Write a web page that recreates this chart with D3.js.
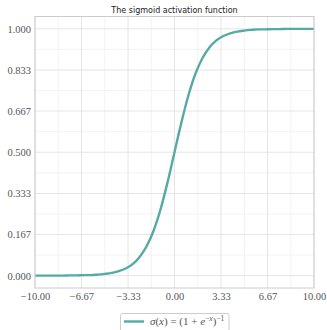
<!DOCTYPE html>
<html>
<head>
<meta charset="utf-8">
<script src="https://cdn.jsdelivr.net/npm/d3@7"></script>
<style>
  body { margin: 0; background: #fff; }
  svg { display: block; }
  .tick text { font-family: "Liberation Serif", serif; font-size: 10.5px; fill: #555; }
</style>
</head>
<body>
<svg width="327" height="330"></svg>
<script>
// values
const xs = [-10, -9.5, -9, -8.5, -8, -7.5, -7, -6.5, -6, -5.5, -5, -4.5, -4, -3.5, -3, -2.5, -2, -1.5, -1, -0.5,
  0, 0.5, 1, 1.5, 2, 2.5, 3, 3.5, 4, 4.5, 5, 5.5, 6, 6.5, 7, 7.5, 8, 8.5, 9, 9.5, 10];
const ys = [0.000, 0.000, 0.000, 0.000, 0.000, 0.001, 0.001, 0.002, 0.002, 0.004, 0.007, 0.011, 0.018, 0.029, 0.047, 0.076, 0.119, 0.182, 0.269, 0.378,
  0.500, 0.622, 0.731, 0.818, 0.881, 0.924, 0.953, 0.971, 0.982, 0.989, 0.993, 0.996, 0.998, 0.998, 0.999, 0.999, 1.000, 1.000, 1.000, 1.000, 1.000];
const xTicks = [-10, -6.67, -3.33, 0, 3.33, 6.67, 10];
const yTicks = [0, 0.167, 0.333, 0.5, 0.667, 0.833, 1];
const title = 'The sigmoid activation function';

const W = 327, H = 330;
const margin = {left: 35, right: 13, top: 16.5, bottom: 42};
const svg = d3.select('svg');

const x = d3.scaleLinear().domain([-10, 10]).range([margin.left, W - margin.right]);
const y = d3.scaleLinear().domain([-0.05, 1.05]).range([H - margin.bottom, margin.top]);

// minor grid at midpoints
const xMinor = xTicks.slice(1).map((t, i) => (t + xTicks[i]) / 2);
const yMinor = yTicks.slice(1).map((t, i) => (t + yTicks[i]) / 2);

const grid = svg.append('g');
grid.selectAll('.xm').data(xMinor).join('line')
  .attr('x1', d => x(d)).attr('x2', d => x(d))
  .attr('y1', y.range()[1]).attr('y2', y.range()[0])
  .attr('stroke', '#f0f0f0').attr('stroke-width', 0.8);
grid.selectAll('.ym').data(yMinor).join('line')
  .attr('y1', d => y(d)).attr('y2', d => y(d))
  .attr('x1', x.range()[0]).attr('x2', x.range()[1])
  .attr('stroke', '#f0f0f0').attr('stroke-width', 0.8);
grid.selectAll('.xg').data(xTicks).join('line')
  .attr('x1', d => x(d)).attr('x2', d => x(d))
  .attr('y1', y.range()[1]).attr('y2', y.range()[0])
  .attr('stroke', '#e2e2e2').attr('stroke-width', 0.9);
grid.selectAll('.yg').data(yTicks).join('line')
  .attr('y1', d => y(d)).attr('y2', d => y(d))
  .attr('x1', x.range()[0]).attr('x2', x.range()[1])
  .attr('stroke', '#e2e2e2').attr('stroke-width', 0.9);

// curve
const line = d3.line().x((d, i) => x(xs[i])).y(d => y(d)).curve(d3.curveMonotoneX);
svg.append('path').datum(ys)
  .attr('d', line)
  .attr('fill', 'none')
  .attr('stroke', '#56aaa6')
  .attr('stroke-width', 2.4);

// frame
svg.append('rect')
  .attr('x', x.range()[0]).attr('y', y.range()[1])
  .attr('width', x.range()[1] - x.range()[0])
  .attr('height', y.range()[0] - y.range()[1])
  .attr('fill', 'none').attr('stroke', '#cccccc').attr('stroke-width', 1);

// axes
const fmtX = d => (d < 0 ? '\u2212' : '') + Math.abs(d).toFixed(2);
const fmtY = d => d.toFixed(3);
const xAxis = svg.append('g')
  .attr('transform', `translate(0,${H - margin.bottom})`)
  .call(d3.axisBottom(x).tickValues(xTicks).tickFormat(fmtX).tickSize(0).tickPadding(5));
const yAxis = svg.append('g')
  .attr('transform', `translate(${margin.left},0)`)
  .call(d3.axisLeft(y).tickValues(yTicks).tickFormat(fmtY).tickSize(0).tickPadding(4));
xAxis.select('.domain').remove();
yAxis.select('.domain').remove();

// title
svg.append('text')
  .attr('x', (x.range()[0] + x.range()[1]) / 2).attr('y', 13)
  .attr('text-anchor', 'middle')
  .style('font-family', '"DejaVu Sans", sans-serif')
  .style('font-size', '8px')
  .attr('fill', '#222')
  .text(title);

// legend
const lg = svg.append('g');
lg.append('rect')
  .attr('x', 120.5).attr('y', 313.5).attr('width', 108.5).attr('height', 24).attr('rx', 2)
  .attr('fill', '#fff').attr('stroke', '#cccccc').attr('stroke-width', 1);
lg.append('line')
  .attr('x1', 124).attr('x2', 144).attr('y1', 321.5).attr('y2', 321.5)
  .attr('stroke', '#56aaa6').attr('stroke-width', 2.4);
const lt = lg.append('text')
  .attr('x', 150).attr('y', 325)
  .style('font-family', '"Liberation Serif", serif')
  .style('font-size', '11px')
  .attr('fill', '#555');
lt.append('tspan').style('font-style', 'italic').text('\u03c3');
lt.append('tspan').text('(');
lt.append('tspan').style('font-style', 'italic').text('x');
lt.append('tspan').text(') = (1 + ');
lt.append('tspan').style('font-style', 'italic').text('e');
lt.append('tspan').attr('dy', -4).style('font-size', '7.5px').text('\u2212');
lt.append('tspan').style('font-size', '7.5px').style('font-style', 'italic').text('x');
lt.append('tspan').attr('dy', 4).text(')');
lt.append('tspan').attr('dy', -4).style('font-size', '7.5px').text('\u22121');
</script>
</body>
</html>
